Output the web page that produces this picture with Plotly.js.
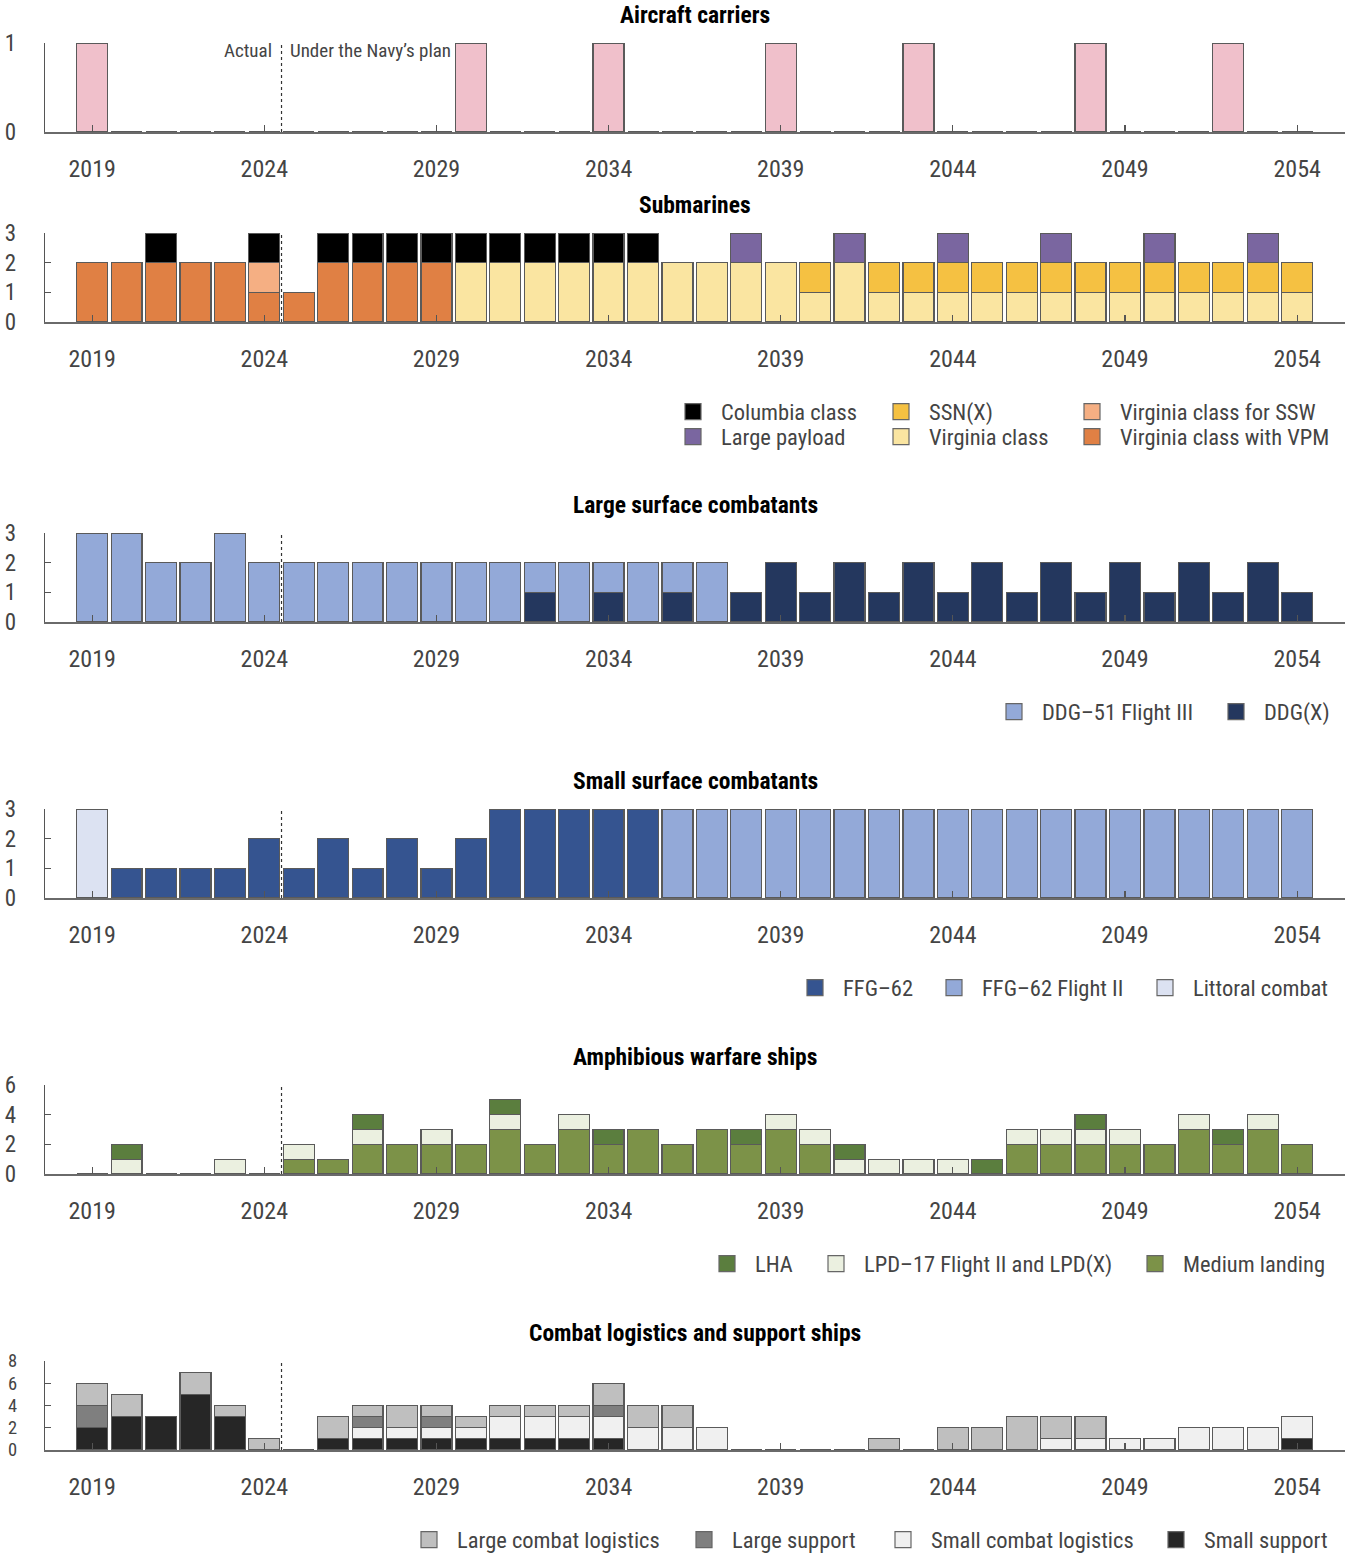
<!DOCTYPE html>
<html>
<head>
<meta charset="utf-8">
<script src="https://cdn.plot.ly/plotly-3.0.1.min.js"></script>
<style>html,body{margin:0;padding:0;background:#fff;}</style>
</head>
<body>
<div id="chart" style="width:1351px;height:1553px;"></div>
<script>
// ---------------- DATA ----------------
const years = [2019,2020,2021,2022,2023,2024,2025,2026,2027,2028,2029,2030,2031,2032,2033,2034,2035,2036,
               2037,2038,2039,2040,2041,2042,2043,2044,2045,2046,2047,2048,2049,2050,2051,2052,2053,2054];
const xTickVals = [2019,2024,2029,2034,2039,2044,2049,2054];

// Aircraft carriers
const carriers = [1,0,0,0,0,0,0,0,0,0,0,1,0,0,0,1,0,0,0,0,1,0,0,0,1,0,0,0,0,1,0,0,0,1,0,0];

// Submarines
const virginiaVPM  = [2,2,2,2,2,1,1,2,2,2,2,0,0,0,0,0,0,0,0,0,0,0,0,0,0,0,0,0,0,0,0,0,0,0,0,0];
const virginia     = [0,0,0,0,0,0,0,0,0,0,0,2,2,2,2,2,2,2,2,2,2,1,2,1,1,1,1,1,1,1,1,1,1,1,1,1];
const virginiaSSW  = [0,0,0,0,0,1,0,0,0,0,0,0,0,0,0,0,0,0,0,0,0,0,0,0,0,0,0,0,0,0,0,0,0,0,0,0];
const ssnx         = [0,0,0,0,0,0,0,0,0,0,0,0,0,0,0,0,0,0,0,0,0,1,0,1,1,1,1,1,1,1,1,1,1,1,1,1];
const columbia     = [0,0,1,0,0,1,0,1,1,1,1,1,1,1,1,1,1,0,0,0,0,0,0,0,0,0,0,0,0,0,0,0,0,0,0,0];
const largePayload = [0,0,0,0,0,0,0,0,0,0,0,0,0,0,0,0,0,0,0,1,0,0,1,0,0,1,0,0,1,0,0,1,0,0,1,0];

// Large surface combatants
const ddgx   = [0,0,0,0,0,0,0,0,0,0,0,0,0,1,0,1,0,1,0,1,2,1,2,1,2,1,2,1,2,1,2,1,2,1,2,1];
const ddg51  = [3,3,2,2,3,2,2,2,2,2,2,2,2,1,2,1,2,1,2,0,0,0,0,0,0,0,0,0,0,0,0,0,0,0,0,0];

// Small surface combatants
const littoral = [3,0,0,0,0,0,0,0,0,0,0,0,0,0,0,0,0,0,0,0,0,0,0,0,0,0,0,0,0,0,0,0,0,0,0,0];
const ffg62    = [0,1,1,1,1,2,1,2,1,2,1,2,3,3,3,3,3,0,0,0,0,0,0,0,0,0,0,0,0,0,0,0,0,0,0,0];
const ffg62f2  = [0,0,0,0,0,0,0,0,0,0,0,0,0,0,0,0,0,3,3,3,3,3,3,3,3,3,3,3,3,3,3,3,3,3,3,3];

// Amphibious warfare ships
const mediumLanding = [0,0,0,0,0,0,1,1,2,2,2,2,3,2,3,2,3,2,3,2,3,2,0,0,0,0,0,2,2,2,2,2,3,2,3,2];
const lpd           = [0,1,0,0,1,0,1,0,1,0,1,0,1,0,1,0,0,0,0,0,1,1,1,1,1,1,0,1,1,1,1,0,1,0,1,0];
const lha           = [0,1,0,0,0,0,0,0,1,0,0,0,1,0,0,1,0,0,0,1,0,0,1,0,0,0,1,0,0,1,0,0,0,1,0,0];

// Combat logistics and support ships
const smallSupport   = [2,3,3,5,3,0,0,1,1,1,1,1,1,1,1,1,0,0,0,0,0,0,0,0,0,0,0,0,0,0,0,0,0,0,0,1];
const smallCombatLog = [0,0,0,0,0,0,0,0,1,1,1,1,2,2,2,2,2,2,2,0,0,0,0,0,0,0,0,0,1,1,1,1,2,2,2,2];
const largeSupport   = [2,0,0,0,0,0,0,0,1,0,1,0,0,0,0,1,0,0,0,0,0,0,0,0,0,0,0,0,0,0,0,0,0,0,0,0];
const largeCombatLog = [2,2,0,2,1,1,0,2,1,2,1,1,1,1,1,2,2,2,0,0,0,0,0,1,0,2,2,3,2,2,0,0,0,0,0,0];

const panelTitles = ["Aircraft carriers","Submarines","Large surface combatants",
                     "Small surface combatants","Amphibious warfare ships","Combat logistics and support ships"];
const yTickVals = [[0,1],[0,1,2,3],[0,1,2,3],[0,1,2,3],[0,2,4,6],[0,2,4,6,8]];

// ---------------- STYLE / LAYOUT ----------------
const FONT = "'Roboto Condensed', 'DejaVu Sans Condensed', 'Liberation Sans Narrow', 'Arial Narrow', Roboto, sans-serif";
const W = 1351, H = 1553, ML = 45, MR = 6;
const PW = W - ML - MR;
const panelTop = [43, 233, 533, 809, 1085, 1361];
const panelH = 89;
const yTickFontSize = [23, 23, 23, 23, 23, 18.5];
const px2x = p => (p - ML) / PW;
const py2y = p => 1 - p / H;

// series per panel in stacking order (bottom -> top); legend entries: [name, icon x px, row]
const panels = [
  {series:[{name:"Aircraft carriers", y:carriers, color:"#F0C0CB"}], legendItems:[]},
  {series:[
     {name:"Virginia class with VPM", y:virginiaVPM, color:"#E08044"},
     {name:"Virginia class", y:virginia, color:"#FAE5A1"},
     {name:"Virginia class for SSW", y:virginiaSSW, color:"#F5AF83"},
     {name:"SSN(X)", y:ssnx, color:"#F5C142"},
     {name:"Columbia class", y:columbia, color:"#000000"},
     {name:"Large payload", y:largePayload, color:"#7A66A0"}],
   legendItems:[["Columbia class",693,0],["Large payload",693,1],["SSN(X)",901,0],["Virginia class",901,1],
                ["Virginia class for SSW",1092,0],["Virginia class with VPM",1092,1]]},
  {series:[
     {name:"DDG(X)", y:ddgx, color:"#24375E"},
     {name:"DDG–51 Flight III", y:ddg51, color:"#93A9D8"}],
   legendItems:[["DDG–51 Flight III",1014,0],["DDG(X)",1236,0]]},
  {series:[
     {name:"Littoral combat", y:littoral, color:"#DCE2F2"},
     {name:"FFG–62", y:ffg62, color:"#355490"},
     {name:"FFG–62 Flight II", y:ffg62f2, color:"#93A9D8"}],
   legendItems:[["FFG–62",815,0],["FFG–62 Flight II",954,0],["Littoral combat",1165,0]]},
  {series:[
     {name:"Medium landing", y:mediumLanding, color:"#7C9248"},
     {name:"LPD–17 Flight II and LPD(X)", y:lpd, color:"#EBF0E0"},
     {name:"LHA", y:lha, color:"#5B7E3E"}],
   legendItems:[["LHA",727,0],["LPD–17 Flight II and LPD(X)",836,0],["Medium landing",1155,0]]},
  {series:[
     {name:"Small support", y:smallSupport, color:"#262626"},
     {name:"Small combat logistics", y:smallCombatLog, color:"#F0F0F0"},
     {name:"Large support", y:largeSupport, color:"#7F7F7F"},
     {name:"Large combat logistics", y:largeCombatLog, color:"#BFBFBF"}],
   legendItems:[["Large combat logistics",429,0],["Large support",704,0],["Small combat logistics",903,0],["Small support",1176,0]]}
];

const traces = [];
const layout = {
  width: W, height: H,
  margin: {l: ML, r: MR, t: 0, b: 0, pad: 0, autoexpand: false},
  paper_bgcolor: "#fff", plot_bgcolor: "rgba(0,0,0,0)",
  barmode: "stack", bargap: 0.1,
  font: {family: FONT, size: 22, color: "#444"},
  showlegend: true,
  annotations: [], shapes: []
};

const legendFont = {family: FONT, size: 22.5, color: "#444"};
let legendCount = 1;
function newLegend(cfg) {
  legendCount++;
  const key = "legend" + legendCount;
  layout[key] = Object.assign({bgcolor: "rgba(0,0,0,0)", borderwidth: 0, font: legendFont,
                               orientation: "h", xanchor: "left", yanchor: "middle",
                               itemwidth: 46, itemclick: false, itemdoubleclick: false}, cfg);
  return key;
}
function legendTrace(s, xa, ya, legendKey) {
  return {type: "scatter", mode: "markers", x: [null], y: [null], xaxis: xa, yaxis: ya,
          name: s.name, legend: legendKey, showlegend: true, hoverinfo: "skip",
          marker: {symbol: "square", size: 16, color: s.color, line: {color: "#666", width: 1.2}}};
}

panels.forEach((p, i) => {
  const sfx = i === 0 ? "" : String(i + 1);
  const xa = "x" + sfx, ya = "y" + sfx;
  const top = panelTop[i], bot = top + panelH;
  const ymax = yTickVals[i][yTickVals[i].length - 1];

  layout["xaxis" + sfx] = {
    domain: [0, 1], anchor: ya, range: [2017.63, 2055.39],
    tickvals: xTickVals, ticks: "inside", ticklen: 7, tickwidth: 1.2, tickcolor: "#555",
    showline: true, linecolor: "#6a6a6a", linewidth: 2, showgrid: false, zeroline: false,
    tickfont: {family: FONT, size: 24, color: "#444"}, ticklabelstandoff: 14, fixedrange: true
  };
  layout["yaxis" + sfx] = {
    domain: [py2y(bot), py2y(top)], anchor: xa, range: [0, ymax],
    tickvals: yTickVals[i], ticks: "inside", ticklen: 6, tickwidth: 1.2, tickcolor: "#555",
    showline: true, linecolor: "#555", linewidth: 1.2, showgrid: false, zeroline: false,
    tickfont: {family: FONT, size: yTickFontSize[i], color: "#444"},
    ticklabelstandoff: 23, fixedrange: true
  };

  p.series.forEach(s => {
    traces.push({type: "bar", x: years, y: s.y, xaxis: xa, yaxis: ya, name: s.name,
                 width: 0.9, showlegend: false, hoverinfo: "skip",
                 marker: {color: s.color, line: {color: "#5a5a5a", width: 1.2}}});
  });

  // panel title
  layout.annotations.push({text: panelTitles[i], xref: "paper", x: 0.5, yref: ya + " domain", y: 1,
    yshift: 28, yanchor: "middle", xanchor: "center", showarrow: false,
    font: {family: FONT, size: 23.5, color: "#000", weight: 700}});

  // actual / plan divider
  layout.shapes.push({type: "line", xref: xa, x0: 2024.5, x1: 2024.5, yref: ya + " domain", y0: 0, y1: 1,
    line: {color: "#333", width: 1.2, dash: "dot"}, layer: "above"});

  const byName = {};
  p.series.forEach(s => byName[s.name] = s);
  p.legendItems.forEach(([n, iconX, row]) => {
    const key = newLegend({x: px2x(iconX - 28), y: py2y(bot + 90 + row * 25)});
    traces.push(legendTrace(byName[n], xa, ya, key));
  });
});

layout.legend = {visible: false};

// "Actual" / "Under the Navy's plan" labels on first panel
layout.annotations.push({text: "Actual", xref: "x", x: 2024.5, xanchor: "right", xshift: -8,
  yref: "y domain", y: 1, yanchor: "middle", yshift: -7, showarrow: false,
  font: {family: FONT, size: 19, color: "#444"}});
layout.annotations.push({text: "Under the Navy’s plan", xref: "x", x: 2024.5, xanchor: "left", xshift: 6,
  yref: "y domain", y: 1, yanchor: "middle", yshift: -7, showarrow: false,
  font: {family: FONT, size: 19, color: "#444"}});

Plotly.newPlot("chart", traces, layout, {displayModeBar: false, staticPlot: true});
</script>
</body>
</html>
